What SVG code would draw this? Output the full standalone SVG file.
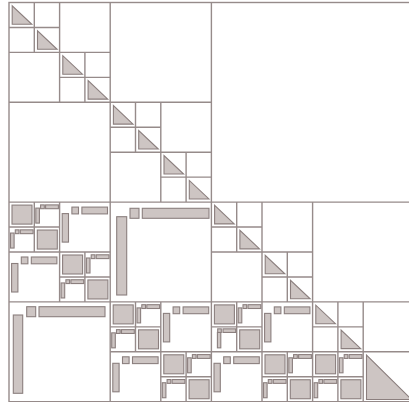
<svg xmlns="http://www.w3.org/2000/svg" xmlns:xlink="http://www.w3.org/1999/xlink" width="409" height="402" viewBox="0 0 409 402">
<style>
.grid{fill:none;stroke:#968b8a;stroke-width:1.4}
.s{fill:#cdc5c3;stroke:#8b7f7e;stroke-width:1.1}
</style>
<defs>
<polygon id="tri1" class="s" points="3.2,3.3 3.2,21.8 22.8,21.8"/>
<rect id="ds1" class="s" x="3" y="3" width="20" height="19"/>
<g id="lr1">
<rect class="s" x="1.5" y="6" width="3.6" height="15"/>
<rect class="s" x="6.3" y="2.8" width="3.7" height="3.8"/>
<rect class="s" x="11.3" y="2.8" width="12.8" height="3.8"/>
</g>
<g id="lr1b">
<rect class="s" x="6" y="5.6" width="3.4" height="15.4"/>
<rect class="s" x="6.3" y="2" width="3.6" height="3.6"/>
<rect class="s" x="11.6" y="2" width="12.7" height="3.6"/>
</g>
<g id="lr2">
<rect class="s" x="2.6" y="11.5" width="6.3" height="28.5"/>
<rect class="s" x="12.3" y="5" width="6.6" height="6.8"/>
<rect class="s" x="22.3" y="5" width="25.6" height="6.8"/>
</g>
</defs>
<rect width="409" height="402" fill="#ffffff"/>
<g id="connectors" class="grid">
<rect x="9" y="2.5" width="404.8" height="399.2"/>
<path d="M211.4 2.5V401.7M9 202.1H413.8M110.2 2.5V401.7M9 102.3H211.4M9 301.9H413.8M312.6 202.1V401.7"/>
<path d="M59.6 2.5V102.3M59.6 202.1V301.9M160.8 102.3V202.1M160.8 301.9V401.7M9 252H110.2M211.4 252H312.6M110.2 351.8H413.8M262 202.1V401.7M363.2 301.9V401.7M9 52.4H110.2M110.2 152.2H211.4"/>
<path d="M34.3 2.5V52.4M9 27.45H59.6M84.9 52.4V102.3M59.6 77.35H110.2M135.5 102.3V152.2M110.2 127.25H160.8M186.1 152.2V202.1M160.8 177.15H211.4M34.3 202.1V252M9 227.05H59.6M84.9 252V301.9M59.6 276.95H110.2M135.5 301.9V351.8M110.2 326.85H160.8M186.1 351.8V401.7M160.8 376.75H211.4M236.7 202.1V252M211.4 227.05H262M287.3 252V301.9M262 276.95H312.6M236.7 301.9V351.8M211.4 326.85H262M287.3 351.8V401.7M262 376.75H312.6M337.9 301.9V401.7M312.6 326.85H363.2M312.6 376.75H363.2"/>
</g>
<g id="triangles">
<use href="#tri1" x="9" y="2.5"/>
<use href="#tri1" x="34.3" y="27.45"/>
<use href="#tri1" x="59.6" y="52.4"/>
<use href="#tri1" x="84.9" y="77.35"/>
<use href="#tri1" x="110.2" y="102.3"/>
<use href="#tri1" x="135.5" y="127.25"/>
<use href="#tri1" x="160.8" y="152.2"/>
<use href="#tri1" x="186.1" y="177.15"/>
<use href="#tri1" x="211.4" y="202.1"/>
<use href="#tri1" x="236.7" y="227.05"/>
<use href="#tri1" x="262" y="252"/>
<use href="#tri1" x="287.3" y="276.95"/>
<use href="#tri1" x="312.6" y="301.9"/>
<use href="#tri1" x="337.9" y="326.85"/>
<polygon class="s" points="366.5,355 366.5,399.5 411.5,399.5"/>
</g>
<g id="dense">
<use href="#ds1" x="9" y="202.1"/>
<use href="#ds1" x="34.3" y="227.05"/>
<use href="#ds1" x="59.6" y="252"/>
<use href="#ds1" x="84.9" y="276.95"/>
<use href="#ds1" x="110.2" y="301.9"/>
<use href="#ds1" x="135.5" y="326.85"/>
<use href="#ds1" x="160.8" y="351.8"/>
<use href="#ds1" x="186.1" y="376.75"/>
<use href="#ds1" x="211.4" y="301.9"/>
<use href="#ds1" x="236.7" y="326.85"/>
<use href="#ds1" x="262" y="351.8"/>
<use href="#ds1" x="287.3" y="376.75"/>
<use href="#ds1" x="312.6" y="351.8"/>
<use href="#ds1" x="337.9" y="376.75"/>
</g>
<g id="lowrank1">
<use href="#lr1" x="34.3" y="202.1"/>
<use href="#lr1" x="9" y="227.05"/>
<use href="#lr1" x="84.9" y="252"/>
<use href="#lr1" x="59.6" y="276.95"/>
<use href="#lr1" x="135.5" y="301.9"/>
<use href="#lr1" x="110.2" y="326.85"/>
<use href="#lr1" x="186.1" y="351.8"/>
<use href="#lr1" x="160.8" y="376.75"/>
<use href="#lr1" x="236.7" y="301.9"/>
<use href="#lr1b" x="211.4" y="326.85"/>
<use href="#lr1" x="287.3" y="351.8"/>
<use href="#lr1" x="262" y="376.75"/>
<use href="#lr1" x="337.9" y="351.8"/>
<use href="#lr1" x="312.6" y="376.75"/>
</g>
<g id="lowrank2">
<use href="#lr2" x="59.6" y="202.1"/>
<use href="#lr2" x="9" y="252"/>
<use href="#lr2" x="160.8" y="301.9"/>
<use href="#lr2" x="110.2" y="351.8"/>
<use href="#lr2" x="262" y="301.9"/>
<use href="#lr2" x="211.4" y="351.8"/>
</g>
<g id="lowrank4">
<rect class="s" x="116.7" y="216.7" width="10" height="78.3"/>
<rect class="s" x="130" y="208.3" width="9" height="10"/>
<rect class="s" x="142.3" y="208.3" width="66.7" height="10"/>
<rect class="s" x="13.3" y="315" width="9.4" height="78.3"/>
<rect class="s" x="26.7" y="306.7" width="9" height="10"/>
<rect class="s" x="39" y="306.7" width="66" height="10"/>
</g>
</svg>
